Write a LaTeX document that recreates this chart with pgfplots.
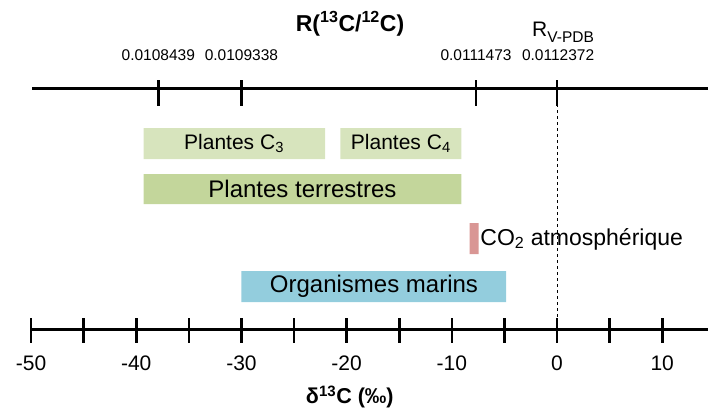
\documentclass[border=0pt]{standalone}
\usepackage{fontspec}
\setmainfont{Liberation Sans}
\usepackage{pgfplots}
\pgfplotsset{compat=1.18}
\definecolor{cthree}{HTML}{D7E4BD}
\definecolor{terr}{HTML}{C3D69B}
\definecolor{cotwo}{HTML}{D99694}
\definecolor{marin}{HTML}{93CDDD}
\newcommand{\fs}[1]{\fontsize{#1}{#1}\selectfont}
\begin{document}
\begin{tikzpicture}
\begin{axis}[name=ax, width=708pt, height=412pt, scale only axis, hide axis,
  xmin=-52.95, xmax=14.35, ymin=0, ymax=412, y dir=reverse, clip=false]
% bars
\addplot[fill=cthree, draw=none] coordinates {(-39.3,128) (-22.05,128) (-22.05,159) (-39.3,159) (-39.3,128)};
\addplot[fill=cthree, draw=none] coordinates {(-20.6,128) (-9.1,128) (-9.1,159) (-20.6,159) (-20.6,128)};
\addplot[fill=terr, draw=none] coordinates {(-39.3,174) (-9.1,174) (-9.1,204) (-39.3,204) (-39.3,174)};
\addplot[fill=cotwo, draw=none] coordinates {(-8.3,223) (-7.45,223) (-7.45,254) (-8.3,254) (-8.3,223)};
\addplot[fill=marin, draw=none] coordinates {(-30.0,271) (-4.85,271) (-4.85,302) (-30.0,302) (-30.0,271)};
% dashed reference line
\addplot[black, dashed, line width=0.8pt] coordinates {(0,104) (0,318)};
% bottom axis
\addplot[black, line width=3pt] coordinates {(-50,329) (14.35,329)};
\addplot[black, only marks, mark=|, mark size=12.5pt, mark options={line width=2.6pt}] coordinates {
(-50,330.5) (-45,330.5) (-40,330.5) (-35,330.5) (-30,330.5) (-25,330.5) (-20,330.5)
(-15,330.5) (-10,330.5) (-5,330.5) (0,330.5) (5,330.5) (10,330.5) (15,330.5)};
% top axis
\addplot[black, line width=3pt] coordinates {(-49.9,88) (14.35,88)};
\addplot[black, only marks, mark=|, mark size=13pt, mark options={line width=2.6pt}] coordinates {
(-37.9,93) (-30,93) (-7.7,93) (0,93)};
% labels in bars
\node[font=\fs{21}] at (axis cs:-30.7,143.5) {Plantes C\textsubscript{3}};
\node[font=\fs{21}] at (axis cs:-14.85,143.5) {Plantes C\textsubscript{4}};
\node[font=\fs{24}] at (axis cs:-24.2,189) {Plantes terrestres};
\node[font=\fs{23}, anchor=west, inner sep=0pt] at (axis cs:-7.3,239) {CO\textsubscript{2} atmosphérique};
\node[font=\fs{24}] at (axis cs:-17.4,286.5) {Organismes marins};
% bottom tick labels
\node[font=\fs{21}] at (axis cs:-50,363) {-50};
\node[font=\fs{21}] at (axis cs:-40,363) {-40};
\node[font=\fs{21}] at (axis cs:-30,363) {-30};
\node[font=\fs{21}] at (axis cs:-20,363) {-20};
\node[font=\fs{21}] at (axis cs:-10,363) {-10};
\node[font=\fs{21}] at (axis cs:0,363) {0};
\node[font=\fs{21}] at (axis cs:10,363) {10};
\node[font=\bfseries\fs{21.5}] at (axis cs:-19.7,397) {δ\textsuperscript{13}C (‰)};
% top tick labels
\node[font=\fs{15.5}] at (axis cs:-37.9,55) {0.0108439};
\node[font=\fs{15.5}] at (axis cs:-30,55) {0.0109338};
\node[font=\fs{15.5}] at (axis cs:-7.7,55) {0.0111473};
\node[font=\fs{15.5}] at (axis cs:0.1,55) {0.0112372};
\node[font=\fs{21}, anchor=base west, inner sep=0pt] at (axis cs:-2.38,37) {R\raisebox{-5pt}{\fs{15.5}V-PDB}};
\node[font=\bfseries\fs{23}] at (axis cs:-19.68,24) {R(\textsuperscript{13}C/\textsuperscript{12}C)};
\end{axis}
\pgfresetboundingbox
\path[use as bounding box] (ax.south west) rectangle (ax.north east);
\end{tikzpicture}
\end{document}
